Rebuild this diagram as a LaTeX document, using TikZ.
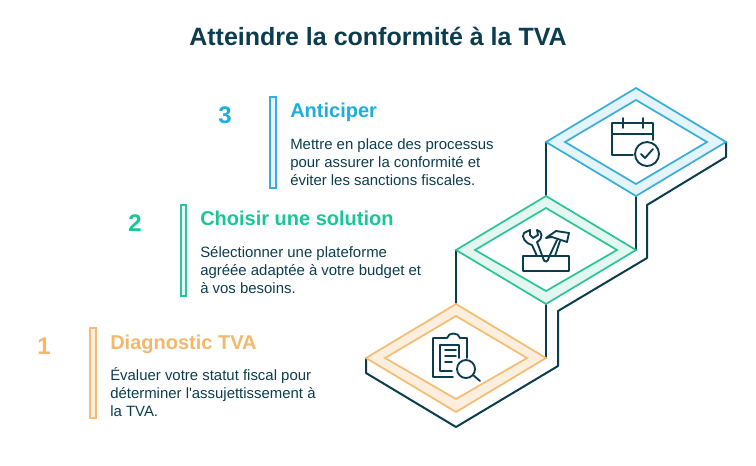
\documentclass[tikz,border=0pt]{standalone}
\usepackage{fontspec}
\setmainfont{Liberation Sans}
\newfontfamily\plainbody{Liberation Sans}
\definecolor{ink}{HTML}{0B3D4F}
\definecolor{org}{HTML}{F5BC73}
\definecolor{orgl}{HTML}{FDEFDD}
\definecolor{grn}{HTML}{2CC49B}
\definecolor{grnl}{HTML}{E3F6F0}
\definecolor{blu}{HTML}{3BAED8}
\definecolor{blul}{HTML}{E3F4FB}
\definecolor{orgt}{HTML}{F5B76A}
\definecolor{grnt}{HTML}{17C797}
\definecolor{blut}{HTML}{1CAEDC}
\tikzset{
 edge/.style={draw=ink,line width=1.5pt,line cap=round,line join=round},
 ico/.style={draw=ink,line width=1.4pt,line cap=round,line join=round},
 titletext/.style={anchor=base,font=\fontsize{18.75}{22}\selectfont\bfseries,text=ink,inner sep=0pt},
 numtext/.style={anchor=base,font=\fontsize{18}{22}\selectfont\bfseries,inner sep=0pt},
 headtext/.style={anchor=base west,font=\fontsize{15}{18}\selectfont\bfseries,inner sep=0pt},
 bodytext/.style={anchor=north west,align=left,font=\plainbody\fontsize{11.2}{13.5}\selectfont,text=ink,inner sep=0pt},
 plate/.style={line width=1.3pt,even odd rule},
 barbox/.style={line width=1.5pt},
}
\begin{document}
\begin{tikzpicture}[x=0.75pt,y=-0.75pt]
\useasboundingbox (0,0) rectangle (756,465);
% outline
\draw[edge] (726,142) -- (726,157) -- (647,205) -- (647,258) -- (558,311) -- (558,366) -- (456,427) -- (366,373) -- (366,358);
\draw[edge] (546,142) -- (546,196);
\draw[edge] (636,196) -- (636,250);
\draw[edge] (456,250) -- (456,304);
\draw[edge] (546,304) -- (546,358);
% plates
\fill[orgl,even odd rule] (366,358)--(456,304)--(546,358)--(456,412)--cycle (385,358)--(456,316)--(527,358)--(456,399)--cycle;
\draw[org,plate] (366,358)--(456,304)--(546,358)--(456,412)--cycle (385,358)--(456,316)--(527,358)--(456,399)--cycle;
\fill[grnl,even odd rule] (456,250)--(546,196)--(636,250)--(546,304)--cycle (475,250)--(546,208)--(617,250)--(546,291)--cycle;
\draw[grn,plate] (456,250)--(546,196)--(636,250)--(546,304)--cycle (475,250)--(546,208)--(617,250)--(546,291)--cycle;
\fill[blul,even odd rule] (546,142)--(636,88)--(726,142)--(636,196)--cycle (565,142)--(636,100)--(707,142)--(636,184)--cycle;
\draw[blu,plate] (546,142)--(636,88)--(726,142)--(636,196)--cycle (565,142)--(636,100)--(707,142)--(636,184)--cycle;
% clipboard icon
\draw[ico] (453,377) -- (433,377) -- (433,338) -- (447,338) .. controls (448,332) and (459,332) .. (460,338) -- (467,338) -- (467,358);
\draw[ico] (452,371) -- (440,371) -- (440,345) -- (459,345) -- (459,358);
\draw[ico] (445,350) -- (456,350) (445,356) -- (456,356) (445,362) -- (452,362);
\draw[ico] (466,369) circle[radius=9];
\draw[ico] (473,375) -- (480,381);
% tools icon
\draw[ico] (523,256) rectangle (569,271);
\draw[ico] (537,256) -- (532,245) .. controls (525,243) and (521,237) .. (524,233) -- (530,230) -- (530,235) -- (533,238) -- (538,235) -- (537,230) .. controls (542,231) and (544,238) .. (537,242) -- (543,258) .. controls (544,263) and (548,263) .. (549,257) -- (557,240);
\draw[ico] (555,256) -- (560,241);
\draw[ico] (552,237) -- (546,238) -- (556,231) -- (569,233) -- (567,242) -- cycle;
% calendar icon
\draw[ico] (633,155) -- (612,155) -- (612,123) -- (653,123) -- (653,140);
\draw[ico] (612,134) -- (653,134);
\draw[ico] (623,118) -- (623,128) (643,118) -- (643,128);
\draw[ico] (647,154) circle[radius=12];
\draw[ico] (641,154) -- (645,158) -- (653,149);
% title
\node[titletext] (title) at (378,45.5) {Atteindre la conformité à la TVA};
% step 3
\draw[blu,fill=blul,barbox] (269.5,96.5) rectangle (275.5,187.5);
\node[numtext,text=blut] (n3) at (225,123) {3};
\node[headtext,text=blut] (h3) at (290,117) {Anticiper};
\node[bodytext] (b3) at (290,138) {Mettre en place des processus\\pour assurer la conformité et\\éviter les sanctions fiscales.};
% step 2
\draw[grn,fill=grnl,barbox] (180.5,204.5) rectangle (186,295.5);
\node[numtext,text=grnt] (n2) at (135,231) {2};
\node[headtext,text=grnt] (h2) at (200,225) {Choisir une solution};
\node[bodytext] (b2) at (200,246) {Sélectionner une plateforme\\agréée adaptée à votre budget et\\à vos besoins.};
% step 1
\draw[org,fill=orgl,barbox] (89.5,327.5) rectangle (96,418);
\node[numtext,text=orgt] (n1) at (44,354) {1};
\node[headtext,text=orgt] (h1) at (110,349) {Diagnostic TVA};
\node[bodytext] (b1) at (110,367) {Évaluer votre statut fiscal pour\\déterminer l'assujettissement à\\la TVA.};
\end{tikzpicture}
\end{document}
